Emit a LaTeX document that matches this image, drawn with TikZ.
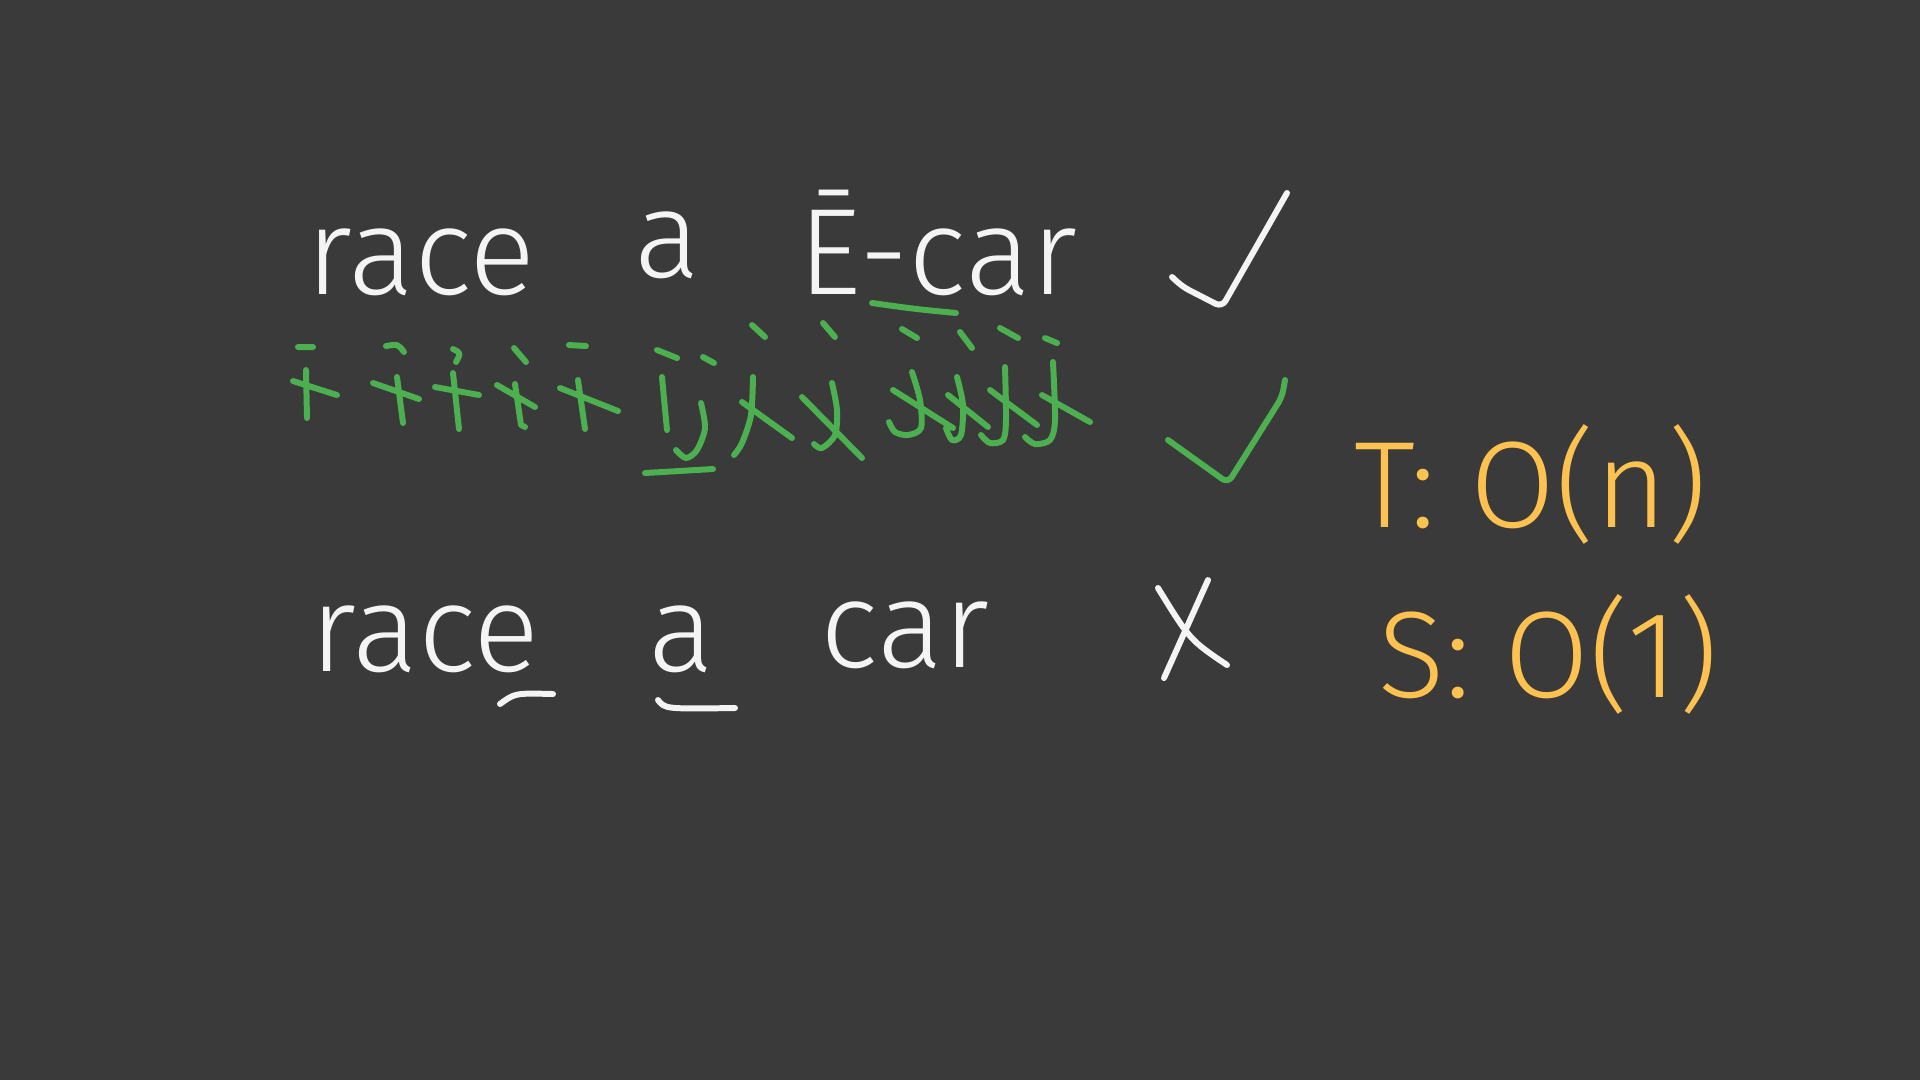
\documentclass[tikz,border=0pt]{standalone}
\usepackage{fontspec}
\setmainfont{Fira Sans Light}
\usepackage{xcolor}
\definecolor{Board}{HTML}{3A3A3A}
\definecolor{Chalk}{HTML}{F4F4F4}
\definecolor{PenGreen}{HTML}{4CAF50}
\definecolor{PenYellow}{HTML}{FFC14F}
\usepackage{tikz}

\begin{document}
\begin{tikzpicture}[x=0.1mm,y=-0.1mm,
hand/.style={text=Chalk,font=\fontsize{35}{42}\selectfont,inner sep=0pt,anchor=base west},
cost/.style={hand,text=PenYellow,font=\fontsize{35}{42}\selectfont},
chalkline/.style={draw=Chalk,line width=1.7pt,line cap=round,line join=round},
ptr/.style={chalkline,draw=PenGreen}]
\fill[Board] (0,0) rectangle (1920,1080);
\useasboundingbox (0,0) rectangle (1920,1080);
% first string
\node[hand] (race1) at (306,294) {race};
\node[hand] (a1) at (634,277) {a};
\node[hand] (ecar) at (798,294) {Ē-car};
\draw[chalkline,rounded corners=2pt] (1172,277) -- (1183,287) -- (1222,307) -- (1287,193);
% pointers walking in from both ends
\draw[ptr] (298,347) -- (313,347) (306,370) -- (307,418) (293,381) -- (337,395);
\draw[ptr] (386,346) .. controls (398,344) .. (404,352) (397,377) -- (403,423) (373,383) -- (419,399);
\draw[ptr] (453,349) .. controls (461,353) .. (456,362) (453,373) -- (459,429) (435,387) -- (479,395);
\draw[ptr] (514,348) -- (526,362) (515,384) -- (521,425) -- (525,427) (497,385) -- (535,407);
\draw[ptr] (569,345) -- (586,346) (578,380) -- (585,429) (560,388) -- (618,411);
\draw[ptr] (657,350) -- (677,358) (703,357) -- (714,363) (662,377) -- (667,430);
\draw[ptr] plot[smooth] coordinates {(701,403) (705,428) (697,450) (686,458) (676,450)};
\draw[ptr] (645,473) -- (713,469);
\draw[ptr] (752,325) -- (765,337) (742,402) -- (792,438);
\draw[ptr] plot[smooth] coordinates {(753,377) (751,415) (742,443) (734,455)};
\draw[ptr] (823,323) -- (835,337) (802,397) -- (862,458);
\draw[ptr] plot[smooth] coordinates {(832,383) (837,410) (835,435) (822,448) (814,444)};
\draw[ptr] (902,329) -- (917,338) (893,390) -- (953,428);
\draw[ptr] plot[smooth] coordinates {(912,372) (920,400) (921,428) (908,435) (895,432) (889,422)};
\draw[ptr] (960,332) -- (972,348) (948,395) -- (988,427);
\draw[ptr] plot[smooth] coordinates {(957,377) (963,405) (961,435) (952,440) (946,428)};
\draw[ptr] (1000,328) -- (1018,338) (990,390) -- (1037,425);
\draw[ptr] plot[smooth] coordinates {(1005,367) (1006,420) (1003,440) (990,443) (981,435)};
\draw[ptr] (1045,338) -- (1057,343) (1042,395) -- (1090,422);
\draw[ptr] plot[smooth] coordinates {(1053,362) (1055,420) (1050,440) (1035,444) (1025,437)};
\draw[ptr] (872,303) .. controls (915,309) .. (956,313);
\draw[ptr,rounded corners=2pt] (1168,440) -- (1228,483) -- (1282,397) -- (1285,380);
% second string
\node[hand] (race2) at (310,671) {race};
\node[hand] (a2) at (648,671) {a};
\node[hand] (car2) at (820,667) {car};
\draw[chalkline] (500,704) .. controls (515,693) .. (553,694);
\draw[chalkline] (658,700) .. controls (665,709) .. (735,708);
\draw[chalkline] (1158,588) .. controls (1190,640) .. (1227,665);
\draw[chalkline] (1208,580) -- (1164,678);
% complexity
\node[cost] (tcomp) at (1354,527) {T: O(n)};
\node[cost] (scomp) at (1378,697) {S: O(1)};
\end{tikzpicture}
\end{document}
